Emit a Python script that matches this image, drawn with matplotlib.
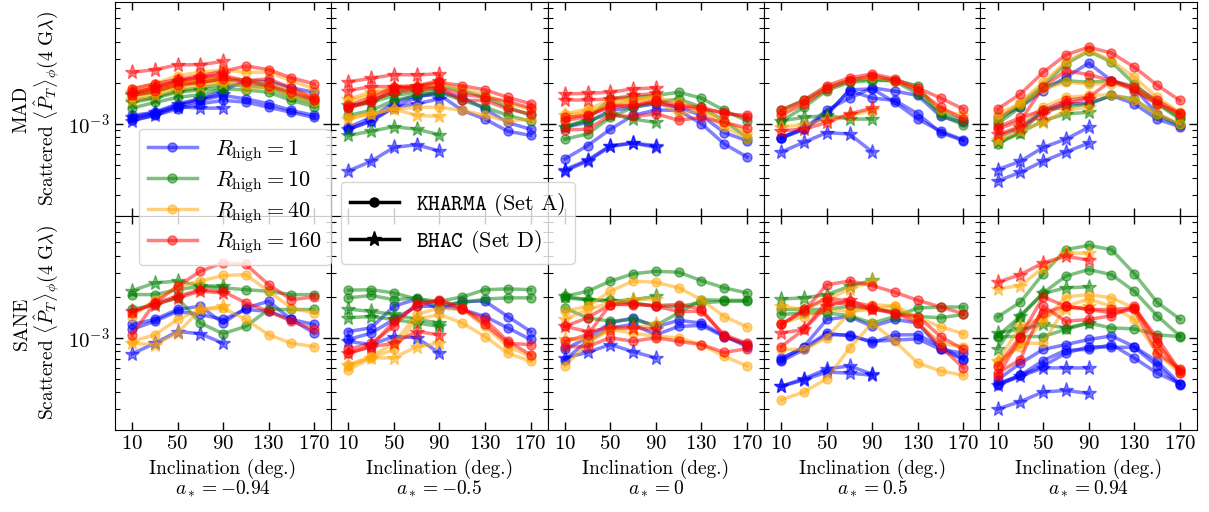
import numpy as np
import matplotlib
matplotlib.use("Agg")
import matplotlib.pyplot as plt
from matplotlib.lines import Line2D

plt.rcParams['font.family'] = 'serif'
plt.rcParams['font.serif'] = ['cmr10']
plt.rcParams['mathtext.fontset'] = 'cm'
plt.rcParams['axes.formatter.use_mathtext'] = True
plt.rcParams['axes.unicode_minus'] = True

inc_k = [10, 30, 50, 70, 90, 110, 130, 150, 170]
inc_b = [10, 30, 50, 70, 90]
rhigh = [1, 10, 40, 160]
rcolors = {1: 'blue', 10: 'green', 40: 'orange', 160: 'red'}
spins = ['-0.94', '-0.5', '0', '0.5', '0.94']
models = ['MAD', 'SANE']

# values in units of 1e-3; k = KHARMA (Set A), b = BHAC (Set D)
mad_m094 = {
    'k': {1: [[1.15, 1.21, 1.36, 1.52, 1.75, 2.07, 2.03, 1.83, 1.70],
              [1.10, 1.18, 1.33, 1.48, 1.61, 1.52, 1.40, 1.25, 1.15],
              [1.06, 1.15, 1.28, 1.40, 1.48, 1.44, 1.32, 1.21, 1.11]],
          10: [[1.61, 1.70, 1.90, 2.01, 2.13, 2.07, 1.90, 1.65, 1.48],
               [1.30, 1.43, 1.56, 1.63, 1.80, 1.77, 1.70, 1.48, 1.33],
               [1.48, 1.56, 1.75, 1.83, 1.96, 1.90, 1.83, 1.56, 1.41]],
          40: [[1.80, 1.96, 2.25, 2.38, 2.48, 2.38, 2.38, 2.07, 1.80],
               [1.56, 1.70, 1.90, 2.01, 2.07, 1.83, 1.83, 1.61, 1.43],
               [1.65, 1.77, 1.96, 2.07, 2.17, 2.07, 1.96, 1.75, 1.56]],
          160: [[1.80, 1.96, 2.11, 2.25, 2.42, 2.65, 2.49, 2.17, 1.96],
                [1.70, 1.83, 2.05, 2.17, 2.25, 2.07, 2.13, 1.83, 1.54],
                [1.61, 1.73, 1.93, 2.01, 2.13, 2.01, 1.90, 1.70, 1.49]]},
    'b': {1: [[1.05, 1.15, 1.33, 1.30, 1.30], [1.11, 1.21, 1.40, 1.52, 1.65]],
          10: [[1.61, 1.75, 1.96, 2.01, 2.13], [1.43, 1.54, 1.70, 1.77, 1.83]],
          40: [[1.48, 1.61, 1.80, 1.90, 1.98], [1.70, 1.83, 2.01, 2.07, 2.17]],
          160: [[2.38, 2.49, 2.70, 2.71, 2.86], [1.65, 1.85, 2.07, 2.19, 2.32]]},
}

mad_m05 = {
    'k': {1: [[0.91, 1.04, 1.32, 1.56, 1.70, 1.56, 1.28, 1.02, 0.91],
              [0.94, 1.11, 1.43, 1.61, 1.63, 1.25, 1.08, 0.88, 0.82]],
          10: [[1.15, 1.25, 1.48, 1.61, 1.70, 1.48, 1.32, 1.15, 1.04],
               [1.32, 1.48, 1.70, 1.83, 1.90, 1.75, 1.56, 1.32, 1.15]],
          40: [[1.11, 1.18, 1.28, 1.32, 1.32, 1.25, 1.15, 1.05, 1.08],
               [1.48, 1.61, 1.83, 1.90, 1.96, 1.80, 1.63, 1.40, 1.28]],
          160: [[1.36, 1.56, 1.85, 1.83, 1.83, 1.48, 1.48, 1.28, 1.18],
                [1.32, 1.43, 1.80, 1.87, 2.01, 1.90, 1.77, 1.56, 1.40],
                [1.30, 1.48, 1.70, 1.77, 1.83, 1.65, 1.56, 1.46, 1.30]]},
    'b': {1: [[0.45, 0.53, 0.67, 0.70, 0.63], [0.91, 1.05, 1.32, 1.40, 1.52]],
          10: [[0.82, 0.88, 0.95, 0.91, 0.83], [1.36, 1.43, 1.61, 1.70, 1.75]],
          40: [[1.52, 1.70, 1.83, 1.85, 1.96], [1.08, 1.18, 1.28, 1.15, 1.13]],
          160: [[2.03, 2.15, 2.29, 2.28, 2.32], [1.75, 1.87, 1.87, 1.90, 2.07]]},
}

mad_0 = {
    'k': {1: [[0.55, 0.69, 0.91, 1.15, 1.26, 1.25, 1.00, 0.71, 0.57],
              [0.94, 1.02, 1.25, 1.32, 1.40, 1.32, 1.15, 0.86, 0.75]],
          10: [[0.94, 1.08, 1.52, 1.56, 1.61, 1.70, 1.54, 1.25, 1.05],
               [0.77, 0.84, 1.11, 1.32, 1.43, 1.52, 1.32, 1.05, 0.79]],
          40: [[1.18, 1.28, 1.48, 1.52, 1.56, 1.43, 1.28, 1.05, 0.86],
               [1.08, 1.21, 1.40, 1.48, 1.48, 1.18, 1.25, 0.94, 0.79]],
          160: [[1.11, 1.15, 1.32, 1.36, 1.48, 1.36, 1.32, 1.18, 1.15],
                [0.90, 0.91, 1.15, 1.13, 1.18, 1.06, 1.11, 1.02, 0.93],
                [1.05, 1.13, 1.36, 1.36, 1.43, 1.32, 1.28, 1.21, 1.11]]},
    'b': {1: [[0.45, 0.53, 0.68, 0.72, 0.69], [0.46, 0.54, 0.69, 0.72, 0.67]],
          10: [[0.95, 1.05, 1.18, 1.08, 1.02]],
          40: [[1.15, 1.21, 1.32, 1.48, 1.56]],
          160: [[1.65, 1.67, 1.70, 1.80, 1.83], [1.49, 1.49, 1.52, 1.61, 1.67]]},
}

mad_05 = {
    'k': {1: [[0.79, 0.91, 1.26, 1.54, 1.83, 1.73, 1.61, 1.13, 1.02],
              [0.78, 0.91, 1.18, 1.75, 1.54, 1.48, 1.18, 0.86, 0.75],
              [0.79, 0.94, 1.15, 1.77, 1.80, 1.43, 1.08, 0.88, 0.76]],
          10: [[1.04, 1.32, 1.75, 2.01, 2.07, 2.07, 1.90, 1.15, 0.98],
               [1.25, 1.48, 1.83, 2.07, 2.13, 2.05, 1.65, 1.21, 1.05]],
          40: [[1.21, 1.43, 1.85, 2.09, 2.19, 2.07, 1.80, 1.25, 1.15]],
          160: [[1.26, 1.49, 1.90, 2.17, 2.32, 2.13, 1.83, 1.54, 1.28],
                [1.15, 1.40, 1.80, 2.07, 2.25, 2.07, 1.75, 1.32, 1.08]]},
    'b': {1: [[0.62, 0.73, 0.86, 0.84, 0.62]],
          10: [[1.05, 1.11, 1.15, 1.08, 1.08]],
          40: [[0.95, 0.98, 1.08, 1.15, 1.25]],
          160: [[0.89, 0.91, 1.02, 1.18, 1.30]]},
}

mad_094 = {
    'k': {1: [[1.11, 1.32, 1.75, 2.19, 2.78, 2.07, 1.83, 1.18, 0.97],
              [0.79, 0.94, 1.25, 1.40, 1.40, 1.61, 1.40, 1.08, 0.95]],
          10: [[1.05, 1.40, 1.90, 2.75, 3.40, 2.83, 1.96, 1.43, 1.11],
               [1.00, 1.32, 1.85, 2.07, 2.01, 2.07, 1.80, 1.40, 1.08],
               [0.71, 0.86, 1.25, 1.32, 1.40, 1.61, 1.52, 1.15, 0.98]],
          40: [[1.08, 1.43, 2.01, 2.83, 3.45, 2.90, 2.19, 1.56, 1.21],
               [1.18, 1.40, 1.80, 2.01, 1.96, 1.96, 1.85, 1.40, 1.18],
               [0.77, 1.00, 1.32, 1.56, 1.61, 1.63, 1.48, 1.18, 1.00]],
          160: [[1.28, 1.65, 2.38, 3.20, 3.64, 3.30, 2.60, 1.92, 1.48],
                [0.91, 1.05, 1.85, 2.45, 2.29, 2.07, 1.87, 1.48, 1.19],
                [0.94, 1.11, 1.25, 1.48, 1.56, 2.07, 1.75, 1.40, 1.18]]},
    'b': {1: [[0.46, 0.53, 0.67, 0.77, 0.94], [0.38, 0.44, 0.53, 0.62, 0.72]],
          10: [[0.73, 0.86, 1.05, 1.18, 1.21]],
          40: [[0.76, 0.89, 1.02, 1.25, 1.33]],
          160: [[0.84, 0.94, 1.18, 1.40, 1.52]]},
}

sane_m094 = {
    'k': {1: [[1.25, 1.36, 1.61, 1.70, 1.28, 1.65, 1.85, 1.36, 1.25],
              [1.15, 1.32, 1.56, 1.48, 1.36, 1.61, 1.56, 1.36, 1.08]],
          10: [[2.07, 2.07, 2.25, 2.38, 2.32, 2.25, 2.19, 2.07, 2.07],
               [1.61, 1.75, 1.96, 1.28, 1.07, 1.21, 1.61, 1.61, 1.61]],
          40: [[1.43, 1.90, 2.36, 2.60, 2.86, 2.90, 2.19, 1.65, 1.52],
               [0.94, 1.05, 1.36, 1.61, 1.65, 1.36, 1.05, 0.91, 0.86]],
          160: [[1.05, 1.80, 2.38, 3.07, 3.54, 3.45, 2.45, 1.90, 1.99],
                [1.52, 1.80, 2.01, 2.25, 2.19, 1.80, 1.56, 1.32, 1.15]]},
    'b': {1: [[0.76, 0.91, 1.11, 1.07, 0.91]],
          10: [[2.21, 2.52, 2.60, 2.41, 2.38]],
          40: [[0.91, 0.89, 1.08, 1.61, 1.70]],
          160: [[1.56, 1.75, 1.96, 2.19, 2.13]]},
}

sane_m05 = {
    'k': {1: [[1.11, 1.18, 1.70, 1.92, 1.62, 1.85, 1.85, 1.43, 1.11],
              [0.97, 1.08, 1.36, 1.70, 1.70, 1.61, 1.43, 1.18, 0.97]],
          10: [[2.23, 2.25, 2.13, 1.92, 1.85, 1.99, 2.25, 2.28, 2.25],
               [1.96, 2.04, 1.90, 1.96, 1.75, 1.80, 1.92, 1.96, 1.96]],
          40: [[0.58, 0.71, 0.82, 1.36, 1.48, 1.28, 1.02, 0.77, 0.67],
               [0.63, 0.73, 0.91, 1.48, 1.65, 1.61, 1.21, 0.86, 0.73]],
          160: [[0.77, 0.86, 1.32, 1.70, 1.90, 1.65, 1.25, 0.91, 0.89],
                [0.82, 0.91, 1.21, 1.80, 1.85, 1.62, 1.36, 0.94, 0.75]]},
    'b': {1: [[0.94, 0.89, 1.02, 1.00, 0.77]],
          10: [[1.62, 1.56, 1.48, 1.36, 1.28], [1.40, 1.43, 1.36, 1.28, 1.21]],
          40: [[0.63, 0.71, 0.71, 0.86, 0.91]],
          160: [[0.77, 0.86, 0.91, 1.11, 1.05]]},
}

sane_0 = {
    'k': {1: [[0.82, 1.00, 1.28, 1.40, 1.20, 1.34, 1.28, 1.03, 0.86],
              [0.69, 0.94, 1.18, 1.25, 1.05, 1.21, 1.23, 1.02, 0.89]],
          10: [[2.01, 2.19, 2.60, 2.94, 3.07, 3.02, 2.62, 2.32, 2.13],
               [1.96, 1.90, 1.88, 1.80, 1.70, 1.70, 1.80, 1.85, 1.85],
               [1.65, 1.40, 1.32, 1.36, 1.23, 1.52, 1.90, 1.88, 1.88]],
          40: [[1.56, 1.70, 2.19, 2.60, 2.55, 2.32, 1.90, 1.43, 1.20],
               [0.62, 0.91, 1.15, 1.08, 1.02, 1.00, 0.89, 0.73, 0.62]],
          160: [[1.21, 1.40, 1.75, 1.78, 1.70, 1.56, 1.56, 1.05, 0.91],
                [0.94, 1.05, 1.75, 1.75, 1.72, 1.75, 1.62, 1.02, 0.89],
                [0.86, 0.86, 1.00, 0.94, 1.00, 0.94, 0.89, 0.78, 0.83]]},
    'b': {1: [[0.71, 0.78, 0.89, 0.79, 0.71]],
          10: [[2.01, 1.90, 1.85, 1.90, 2.01]],
          40: [[0.97, 0.97, 1.15, 1.18, 1.25], [1.36, 1.61, 1.80, 1.90, 1.92]],
          160: [[1.21, 1.11, 1.18, 1.18, 1.15]]},
}

sane_05 = {
    'k': {1: [[0.69, 0.86, 1.36, 1.43, 1.21, 1.36, 1.28, 0.82, 0.69],
              [0.67, 0.82, 1.05, 1.05, 0.92, 1.05, 1.05, 0.86, 0.70],
              [0.71, 0.84, 1.08, 1.03, 0.94, 0.96, 0.98, 0.82, 0.77]],
          10: [[1.48, 1.52, 1.52, 1.45, 1.28, 1.43, 1.65, 1.68, 1.68],
               [1.61, 1.61, 1.61, 1.70, 1.61, 1.56, 1.43, 1.40, 1.48]],
          40: [[1.28, 1.43, 1.61, 1.56, 1.61, 1.72, 1.40, 1.20, 1.07],
               [0.35, 0.40, 0.50, 0.84, 1.28, 0.94, 0.65, 0.57, 0.53],
               [0.82, 0.82, 1.00, 1.52, 1.75, 1.70, 1.28, 0.91, 0.86]],
          160: [[1.25, 1.56, 2.45, 2.60, 2.41, 2.15, 1.88, 1.68, 1.50],
                [1.25, 1.61, 1.96, 1.85, 1.70, 1.48, 1.43, 1.02, 0.82],
                [0.86, 1.15, 1.85, 1.75, 1.61, 1.52, 1.28, 0.86, 0.60]]},
    'b': {1: [[0.44, 0.50, 0.59, 0.62, 0.54], [0.44, 0.49, 0.56, 0.55, 0.53]],
          10: [[1.92, 1.96, 2.07, 2.38, 2.64]],
          40: [[1.70, 1.61, 1.90, 2.28, 2.60]],
          160: [[1.08, 1.15, 1.70, 1.88, 1.61]]},
}

sane_094 = {
    'k': {1: [[0.49, 0.65, 0.82, 0.89, 0.97, 1.03, 0.86, 0.67, 0.46],
              [0.46, 0.53, 0.68, 0.81, 0.82, 0.89, 0.71, 0.55, 0.46],
              [0.45, 0.53, 0.62, 0.77, 0.86, 0.85, 0.85, 0.62, 0.45]],
          10: [[1.42, 1.82, 2.95, 4.43, 4.75, 4.43, 2.95, 1.82, 1.37],
               [1.03, 1.43, 2.13, 2.83, 3.16, 2.90, 2.19, 1.45, 1.03],
               [1.02, 1.02, 1.02, 1.15, 1.28, 1.18, 1.16, 1.05, 1.02]],
          40: [[0.67, 0.86, 1.32, 1.99, 2.07, 1.96, 1.65, 0.91, 0.58],
               [0.62, 0.91, 0.91, 1.70, 1.92, 1.70, 1.36, 0.77, 0.55]],
          160: [[0.62, 1.02, 1.99, 1.70, 1.61, 1.61, 1.65, 1.00, 0.57],
                [0.55, 0.69, 1.70, 1.32, 1.36, 1.45, 1.70, 0.91, 0.55],
                [0.52, 1.00, 1.52, 1.70, 1.61, 1.52, 1.61, 0.77, 0.59]]},
    'b': {1: [[0.45, 0.52, 0.60, 0.60, 0.60], [0.30, 0.34, 0.40, 0.41, 0.39]],
          10: [[0.83, 1.45, 2.11, 2.32, 2.36], [1.09, 1.15, 1.25, 1.18, 1.28]],
          40: [[2.28, 2.41, 3.25, 4.19, 4.15], [0.67, 1.21, 1.43, 1.61, 1.70]],
          160: [[2.55, 2.90, 3.54, 3.96, 3.70]]},
}

panels = [[mad_m094, mad_m05, mad_0, mad_05, mad_094],
          [sane_m094, sane_m05, sane_0, sane_05, sane_094]]

fig, axes = plt.subplots(2, 5, figsize=(12.09, 5.12), dpi=100, sharex=True, sharey=True)
fig.subplots_adjust(left=0.095, right=0.990, top=0.996, bottom=0.160, wspace=0, hspace=0)

for r in range(2):
    for c in range(5):
        ax = axes[r, c]
        d = panels[r][c]
        for rh in rhigh:
            col = rcolors[rh]
            for line in d['k'][rh]:
                ax.plot(inc_k, np.array(line) * 1e-3, '-o', color=col, alpha=0.5,
                        lw=2.5, ms=6.5)
            for line in d['b'][rh]:
                ax.plot(inc_b, np.array(line) * 1e-3, '-*', color=col, alpha=0.5,
                        lw=2.5, ms=11)
        ax.set_yscale('log')
        ax.set_ylim(2.1e-4, 7.8e-3)
        ax.set_xlim(-5, 185)
        ax.set_xticks([10, 50, 90, 130, 170])
        ax.tick_params(which='both', direction='in', top=True, right=True, labelsize=15)
        ax.tick_params(which='major', length=6, width=1)
        ax.tick_params(which='minor', length=3.5, width=0.8)
        if r == 1:
            ax.set_xlabel('Inclination (deg.)\n$a_* = %s$' % spins[c], fontsize=14,
                          linespacing=1.0)
        if c == 0:
            ax.set_ylabel('%s\nScattered $\\langle \\hat{P}_T \\rangle_\\phi (4\\ \\mathrm{G}\\lambda)$'
                          % models[r], fontsize=14, linespacing=1.1)

h1 = [Line2D([], [], color=rcolors[rh], marker='o', alpha=0.5, lw=2.5, ms=6.5) for rh in rhigh]
l1 = [r'$R_{\rm high} = %d$' % rh for rh in rhigh]
fig.legend(h1, l1, loc='upper left', bbox_to_anchor=(0.115, 0.748), fontsize=16,
           labelspacing=0.22, handlelength=2.2, borderaxespad=0)

h2 = [Line2D([], [], color='k', marker='o', lw=2.5, ms=6.5),
      Line2D([], [], color='k', marker='*', lw=2.5, ms=11)]
l2 = [r'$\mathtt{KHARMA}$ (Set A)', r'$\mathtt{BHAC}$ (Set D)']
fig.legend(h2, l2, loc='upper left', bbox_to_anchor=(0.282, 0.645), fontsize=16,
           labelspacing=0.45, handlelength=2.2, borderaxespad=0)

fig.savefig('out.png', dpi=100)
